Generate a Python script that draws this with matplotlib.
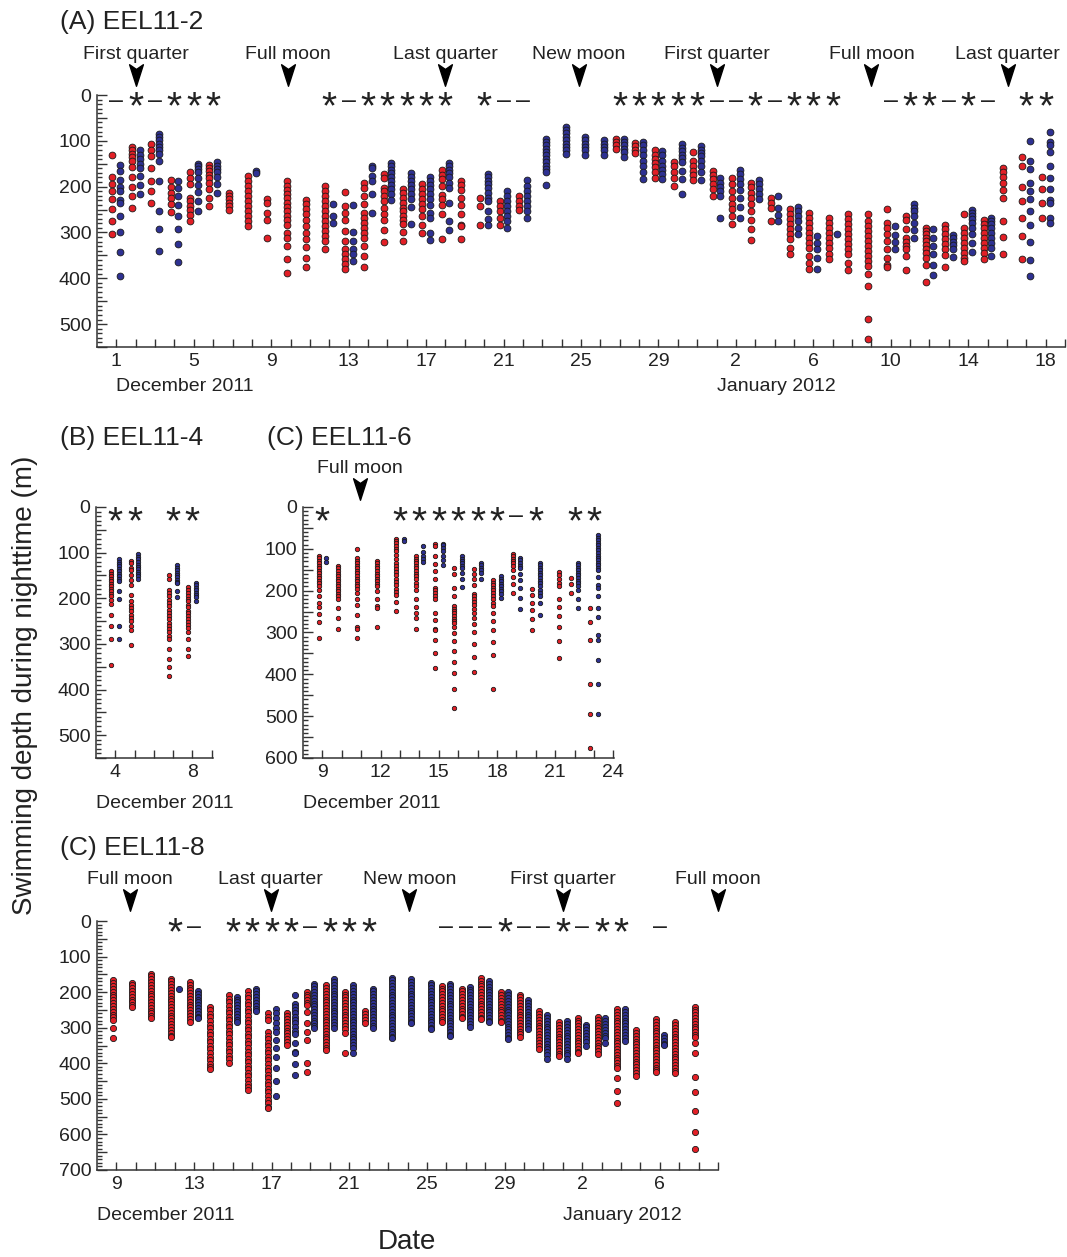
import matplotlib
matplotlib.use('Agg')
import matplotlib.pyplot as plt
import matplotlib.transforms as mtransforms
from matplotlib.path import Path
from matplotlib.ticker import FixedLocator, MultipleLocator, FuncFormatter

plt.rcParams['font.family'] = ['Liberation Sans', 'DejaVu Sans']

RED = '#e21f26'
BLUE = '#2e3192'
EDGE = '#1a1a1a'
AXC = '#333333'

# ---- data: day number (Dec 1 = 1, Jan 1 = 32) -> depths (m) ----
# (A) EEL11-2
a_red = {
    1: [132, 180, 194, 209, 227, 249, 275, 304],
    2: [114, 121, 128, 136, 143, 158, 180, 200, 220, 246],
    3: [106, 121, 134, 159, 187, 209, 235],
    4: [185, 200, 213, 224, 237, 255],
    5: [169, 181, 194, 224, 232, 242, 251, 262, 276],
    6: [152, 159, 166, 174, 181, 191, 205, 225, 242],
    7: [213, 220, 227, 235, 242, 251],
    8: [176, 187, 198, 209, 220, 231, 242, 253, 264, 275, 287],
    9: [227, 235, 257, 273, 312],
    10: [188, 198, 207, 216, 225, 235, 244, 253, 264, 273, 284, 301, 313, 330, 359, 389],
    11: [229, 238, 249, 260, 273, 287, 301, 315, 332, 356, 375],
    12: [198, 209, 220, 231, 242, 253, 264, 275, 286, 297, 308, 319, 337],
    13: [211, 242, 257, 273, 297, 319, 337, 348, 359, 369, 380],
    14: [192, 203, 220, 237, 257, 268, 279, 290, 301, 312, 330, 352, 376],
    15: [172, 181, 202, 210, 220, 231, 247, 260, 273, 295, 321],
    16: [205, 213, 224, 235, 246, 254, 264, 273, 282, 298, 319],
    17: [194, 205, 216, 227, 238, 249, 264, 284, 301],
    18: [163, 174, 183, 198, 218, 227, 240, 260, 315],
    19: [187, 196, 207, 224, 240, 260, 284, 286, 314],
    20: [224, 242, 284],
    21: [232, 242, 253, 268, 284],
    22: [220, 231, 242, 251],
    27: [97, 103, 110, 117],
    28: [105, 112, 119, 127],
    29: [121, 130, 139, 149, 158, 169, 181],
    30: [147, 156, 169, 181, 198],
    31: [125, 143, 154, 165, 174, 185],
    32: [165, 174, 183, 194, 205, 220],
    33: [181, 194, 209, 224, 237, 249, 264, 282],
    34: [191, 200, 213, 225, 238, 254, 273, 293, 317],
    35: [225, 235, 246, 275],
    36: [249, 260, 271, 282, 293, 304, 315, 334, 348],
    37: [257, 268, 279, 290, 301, 312, 323, 334, 352, 367, 379],
    38: [268, 279, 290, 301, 312, 323, 334, 347, 359],
    39: [260, 271, 282, 293, 304, 315, 326, 337, 348, 367, 381],
    40: [259, 275, 286, 297, 308, 319, 330, 341, 352, 363, 374, 391, 416, 488, 533],
    41: [249, 279, 290, 304, 319, 337, 356, 372, 376],
    42: [264, 273, 293, 312, 320, 330, 337, 352, 381],
    43: [290, 297, 304, 312, 319, 328, 337, 345, 356, 372, 409],
    44: [284, 293, 304, 315, 326, 337, 350, 376],
    45: [260, 290, 301, 312, 323, 334, 345, 356, 363],
    46: [273, 281, 290, 301, 312, 323, 334, 345, 357],
    47: [159, 169, 180, 191, 207, 225, 276, 309, 347],
    48: [136, 154, 200, 231, 268, 308, 359],
    49: [180, 205, 235, 268],
}
a_blue = {
    1: [152, 166, 185, 200, 209, 229, 235, 264, 298, 342, 396],
    2: [120, 130, 140, 150, 160, 176, 196, 216],
    3: [86, 92, 99, 106, 114, 121, 128, 144, 187, 253, 292, 341],
    4: [188, 203, 220, 240, 264, 292, 325, 365],
    5: [150, 154, 161, 169, 181, 196, 211, 231, 254],
    6: [147, 154, 161, 169, 180, 194, 213],
    8: [166, 171],
    12: [238, 264, 279],
    13: [240, 298, 319, 337, 348, 363],
    14: [154, 159, 176, 187, 216, 257],
    15: [149, 156, 163, 171, 180, 187, 196, 205, 215, 229],
    16: [171, 178, 187, 196, 205, 216, 227, 244, 281],
    17: [178, 187, 196, 205, 216, 227, 240, 257, 268, 301, 317],
    18: [149, 156, 163, 171, 180, 191, 203, 235, 275, 295],
    20: [172, 180, 187, 194, 202, 213, 224, 231, 253, 271, 284],
    21: [210, 220, 231, 242, 253, 264, 275, 290],
    22: [185, 198, 209, 220, 231, 242, 253, 268],
    23: [95, 103, 110, 117, 125, 132, 139, 147, 154, 161, 169, 196],
    24: [70, 77, 84, 92, 99, 106, 114, 121, 128],
    25: [92, 99, 106, 114, 121, 132],
    26: [99, 106, 114, 121, 132],
    27: [95, 103, 110, 117, 125, 136],
    28: [103, 110, 121, 132, 143, 154, 169, 183],
    29: [122, 132, 143, 154, 163, 172, 183],
    30: [108, 115, 122, 130, 137, 147, 166, 183, 216],
    31: [112, 119, 127, 134, 143, 154, 169, 185],
    32: [181, 191, 200, 210, 220, 269],
    33: [163, 172, 183, 194, 207, 224, 244, 268],
    34: [185, 194, 205, 216, 227],
    35: [221, 247, 262, 275],
    36: [244, 253, 264, 275, 290, 303],
    37: [308, 323, 337, 356, 379],
    38: [303],
    41: [287, 306, 320, 337],
    42: [237, 246, 254, 264, 279, 295, 312],
    43: [293, 312, 330, 348, 372, 392],
    44: [306, 313, 320, 328, 337, 353],
    45: [251, 257, 264, 271, 279, 290, 304, 324, 342],
    46: [268, 275, 282, 290, 301, 312, 323, 334, 352],
    48: [100, 143, 161, 191, 209, 228, 253, 284, 320, 361, 394],
    49: [81, 103, 110, 125, 156, 181, 205, 229, 235, 268, 279],
}
a_marks = {1: '-*-***', 12: '*-*****', 20: '*--', 27: '*****--*-***', 41: '-**-*-', 48: '**'}
a_moon_day = [2.0, 9.85, 18.0, 24.9, 32.0, 40.0, 47.05]
a_moon_name = ['First quarter', 'Full moon', 'Last quarter', 'New moon',
               'First quarter', 'Full moon', 'Last quarter']

# (B) EEL11-4
b_red = {
    4: [141, 146, 152, 158, 163, 168, 174, 180, 185, 190, 196, 203, 212, 237, 261, 290, 346],
    5: [118, 123, 134, 139, 149, 159, 170, 193, 207, 214, 221, 228, 236, 243, 250, 261, 270, 302],
    7: [149, 157, 181, 188, 196, 203, 210, 217, 225, 232, 239, 246, 254, 261, 268, 275, 282, 290,
        312, 332, 351, 370],
    8: [175, 181, 188, 194, 201, 207, 214, 220, 227, 233, 239, 246, 252, 259, 265, 275, 290, 312, 326],
}
b_blue = {
    4: [114, 120, 125, 130, 136, 141, 146, 152, 158, 163, 184, 201, 261, 290],
    5: [104, 110, 115, 120, 126, 131, 136, 142, 147, 152, 157],
    7: [128, 133, 138, 144, 149, 154, 159, 164, 167, 185, 198],
    8: [167, 172, 177, 182, 188, 193, 198, 205],
}
b_marks = {4: '**', 7: '**'}

# (C) EEL11-6
c_red = {
    9: [116, 122, 128, 134, 140, 146, 152, 158, 164, 170, 176, 182, 190, 198, 212, 230, 240, 256, 275, 312],
    10: [141, 147, 153, 159, 165, 171, 177, 183, 189, 195, 201, 207, 213, 221, 241, 265, 292],
    11: [101, 123, 129, 135, 141, 146, 153, 158, 165, 171, 177, 185, 190, 197, 206, 221, 235, 257,
         287, 291, 312],
    12: [129, 135, 141, 147, 153, 159, 165, 171, 177, 183, 190, 201, 219, 237, 241, 287],
    13: [76, 81, 87, 93, 100, 106, 114, 125, 133, 141, 149, 155, 163, 171, 179, 187, 195, 203, 211, 227, 249],
    14: [117, 124, 129, 135, 141, 147, 153, 159, 165, 173, 181, 190, 198, 221, 239, 253, 265, 291],
    15: [89, 93, 116, 137, 153, 173, 193, 198, 205, 213, 219, 253, 270, 291, 294, 319, 348, 386],
    16: [147, 159, 193, 213, 237, 243, 249, 254, 261, 267, 272, 278, 288, 302, 320, 344, 371, 398, 436, 481],
    17: [149, 159, 173, 187, 207, 213, 219, 227, 235, 245, 254, 265, 280, 300, 328, 358, 394],
    18: [175, 181, 187, 193, 198, 205, 213, 221, 229, 237, 253, 273, 294, 322, 353, 434],
    19: [112, 117, 124, 129, 135, 141, 151, 167, 185, 206],
    20: [197, 210, 230, 246, 267, 294],
    21.4: [155, 163, 171, 181, 190, 219, 238, 261, 287, 320, 360],
    22: [169, 185, 205],
    23: [241, 276, 318, 422, 494, 575],
}
c_blue = {
    9: [123, 131],
    13: [77, 81],
    14: [93, 108, 117, 124, 131],
    15: [88, 92, 97, 105, 116, 127, 139],
    16: [117, 124, 129, 135, 141, 147, 157, 173, 191],
    17: [133, 139, 145, 151, 157, 173],
    18: [165, 171, 177, 183, 189, 195, 201, 209, 218],
    19: [121, 127, 133, 141, 147, 159, 175, 194, 217, 245],
    20: [133, 139, 145, 151, 157, 163, 170, 176, 182, 190, 198, 205, 213, 230, 257],
    22: [135, 139, 145, 151, 157, 163, 170, 176, 182, 190, 198, 219, 241],
    23: [68, 73, 79, 85, 91, 97, 102, 109, 116, 121, 127, 133, 139, 145, 151, 167, 187, 193, 213,
         241, 262, 307, 318, 365, 423, 494],
}
c_marks = {9: '*', 13: '******-*', 22: '**'}
c_moon_day = [10.93]
c_moon_name = ['Full moon']

# (C) EEL11-8
d_red = {
    9: [167, 175, 183, 191, 199, 207, 215, 223, 231, 239, 247, 255, 263, 271, 279, 302, 328],
    10: [173, 181, 189, 197, 205, 213, 221, 229, 237, 241],
    11: [148, 156, 164, 172, 180, 188, 196, 204, 212, 220, 228, 236, 244, 252, 260, 268, 274],
    12: [162, 170, 178, 186, 194, 202, 210, 218, 226, 234, 242, 250, 258, 266, 274, 282, 290, 298,
         306, 314, 322, 326],
    13: [171, 179, 187, 195, 203, 211, 219, 227, 235, 243, 251, 259, 267, 275, 283],
    14: [241, 251, 261, 271, 281, 291, 301, 311, 321, 331, 341, 351, 361, 371, 381, 391, 401, 411, 415],
    15: [209, 219, 229, 239, 249, 259, 269, 279, 289, 299, 309, 319, 329, 339, 349, 359, 369, 379, 389, 399],
    16: [197, 207, 217, 227, 237, 247, 257, 267, 277, 287, 297, 307, 317, 327, 337, 347, 357, 367,
         377, 387, 397, 407, 417, 427, 437, 447, 457, 467, 475],
    17: [260, 270, 279, 312, 322, 332, 342, 352, 362, 372, 382, 392, 402, 412, 422, 432, 442, 452,
         462, 472, 482, 492, 502, 512, 522, 527],
    18: [260, 268, 276, 284, 292, 300, 308, 316, 324, 332, 340, 349],
    19: [199, 207, 215, 223, 231, 237, 255, 288, 312, 335, 398, 424],
    20: [181, 189, 197, 205, 213, 221, 229, 237, 245, 253, 261, 269, 277, 285, 293, 301, 309, 317,
         325, 333, 341, 349, 357, 363],
    21: [199, 207, 215, 223, 231, 239, 247, 255, 263, 271, 279, 287, 295, 303, 316, 371],
    22: [254, 262, 270, 278, 288],
    26: [182, 190, 198, 206, 214, 222, 230, 238, 246, 254, 262, 270, 278, 285],
    27: [190, 198, 206, 214, 222, 230, 238, 246, 254, 262, 270, 272],
    28: [160, 168, 176, 184, 192, 200, 208, 216, 224, 232, 240, 248, 256, 264, 272, 276],
    29: [201, 209, 217, 225, 233, 241, 249, 257, 265, 273, 281, 284],
    30: [207, 215, 223, 231, 239, 247, 255, 263, 271, 279, 287, 295, 303, 311, 319, 326],
    31: [254, 262, 270, 278, 286, 294, 302, 310, 318, 326, 334, 342, 350, 360],
    32: [285, 293, 301, 309, 317, 325, 333, 341, 349, 357, 365, 373, 379],
    33: [272, 280, 288, 296, 304, 312, 320, 328, 336, 344, 352, 360, 368, 372],
    34: [270, 278, 286, 294, 302, 310, 318, 326, 334, 342, 350, 358, 366, 375],
    35: [248, 256, 264, 272, 280, 288, 296, 304, 312, 320, 328, 336, 344, 352, 360, 368, 376, 384,
         392, 400, 408, 414, 440, 478, 513],
    36: [307, 315, 323, 331, 339, 347, 355, 363, 371, 379, 387, 395, 403, 411, 419, 427, 435],
    37: [276, 284, 292, 300, 308, 316, 324, 332, 340, 348, 356, 364, 372, 380, 388, 396, 404, 412, 420, 424],
    38: [285, 293, 301, 309, 317, 325, 333, 341, 349, 357, 365, 373, 381, 389, 397, 405, 413, 421, 426],
    39: [241, 249, 257, 265, 273, 281, 289, 297, 305, 313, 321, 326, 344, 370, 438, 482, 534, 594, 642],
}
d_blue = {
    12: [190],
    13: [197, 205, 213, 221, 229, 237, 245, 253, 261, 269, 274],
    15: [213, 221, 229, 237, 245, 253, 261, 269, 277, 284],
    16: [190, 198, 206, 214, 222, 230, 238, 246, 254],
    17: [248, 260, 274, 288, 300, 313, 335, 357, 382, 413, 449, 491],
    18: [209, 232, 241, 251, 260, 270, 279, 288, 298, 310, 319, 342, 368, 372, 403, 433],
    19: [176, 184, 192, 200, 208, 216, 224, 232, 240, 248, 256, 264, 272, 280, 288, 296, 302],
    20: [164, 172, 180, 188, 196, 204, 212, 220, 228, 236, 244, 252, 260, 268, 276, 284, 292, 300],
    21: [181, 189, 197, 205, 213, 221, 229, 237, 245, 253, 261, 269, 277, 285, 293, 301, 309, 317,
         325, 333, 341, 349, 357, 371],
    22: [190, 198, 206, 214, 222, 230, 238, 246, 254, 262, 270, 278, 286, 294, 300],
    23: [159, 167, 175, 183, 191, 199, 207, 215, 223, 231, 239, 247, 255, 263, 271, 279, 287, 295,
         303, 311, 319, 327, 330],
    24: [164, 172, 180, 188, 196, 204, 212, 220, 228, 236, 244, 252, 260, 268, 276, 284, 288],
    25: [173, 181, 189, 197, 205, 213, 221, 229, 237, 245, 253, 261, 269, 277, 285, 293, 301, 304],
    26: [176, 184, 192, 200, 208, 216, 224, 232, 240, 248, 256, 264, 272, 280, 288, 296, 304, 312, 320, 323],
    27: [185, 193, 201, 209, 217, 225, 233, 241, 249, 257, 265, 273, 281, 289, 297],
    28: [169, 177, 185, 193, 201, 209, 217, 225, 233, 241, 249, 257, 265, 273, 281, 285],
    29: [201, 209, 217, 225, 233, 241, 249, 257, 265, 273, 281, 289, 297, 305, 313, 321, 329, 332],
    30: [223, 231, 239, 247, 255, 263, 271, 279, 287, 295, 304],
    31: [265, 273, 281, 289, 297, 305, 313, 321, 329, 337, 345, 353, 361, 369, 377, 388],
    32: [282, 290, 298, 306, 314, 322, 330, 338, 346, 354, 362, 370, 378, 388],
    33: [291, 299, 307, 315, 323, 331, 339, 351],
    34: [274, 282, 290, 298, 306, 314, 322, 330, 342],
    35: [248, 256, 264, 272, 280, 288, 296, 304, 312, 320, 328, 338],
    37: [321, 329, 337, 345, 349],
}
d_marks = {12: '*-', 15: '****-***', 26: '---*--*-**', 37: '-'}
d_moon_day = [9.7, 16.95, 24.1, 32.0, 40.0]
d_moon_name = ['Full moon', 'Last quarter', 'New moon', 'First quarter', 'Full moon']

W, H = 1067, 1257
fig = plt.figure(figsize=(W / 100, H / 100), dpi=100)

ARROW = Path([(0, -0.5), (-0.32, 0.5), (0, 0.28), (0.32, 0.5), (0, -0.5)],
             [Path.MOVETO, Path.LINETO, Path.LINETO, Path.LINETO, Path.CLOSEPOLY])


def panel(box, xlim, ymax, labeled, minor_days, dsize):
    left, top, right, bottom = box
    ax = fig.add_axes([left / W, 1 - bottom / H, (right - left) / W, (bottom - top) / H])
    ax.set_xlim(*xlim)
    ax.set_ylim(ymax, 0)
    for s in ('top', 'right'):
        ax.spines[s].set_visible(False)
    for s in ('left', 'bottom'):
        ax.spines[s].set_color(AXC)
        ax.spines[s].set_linewidth(1.1)
    ax.xaxis.set_major_locator(FixedLocator(labeled))
    ax.xaxis.set_major_formatter(FuncFormatter(lambda v, p: '%d' % (v if v <= 31 else v - 31)))
    ax.xaxis.set_minor_locator(FixedLocator(minor_days))
    ax.yaxis.set_major_locator(MultipleLocator(50))
    ax.yaxis.set_minor_locator(MultipleLocator(10))
    ax.yaxis.set_major_formatter(FuncFormatter(lambda v, p: '%d' % v if v % 100 == 0 else ''))
    ax.tick_params(axis='both', which='both', direction='in', color=AXC, width=1.0,
                   labelsize=14, labelcolor='#222222')
    ax.tick_params(axis='x', which='both', length=6, pad=4)
    ax.tick_params(axis='y', which='major', length=7, pad=4)
    ax.tick_params(axis='y', which='minor', length=3.5)
    ax.dsize = dsize
    return ax


def draw(ax, red, blue):
    for night in sorted(set(red) | set(blue)):
        if night in red:
            ax.scatter([night - 0.2] * len(red[night]), red[night], s=ax.dsize, c=RED,
                       edgecolors=EDGE, linewidths=0.6, zorder=3, clip_on=False)
        if night in blue:
            ax.scatter([night + 0.2] * len(blue[night]), blue[night], s=ax.dsize, c=BLUE,
                       edgecolors=EDGE, linewidths=0.6, zorder=3, clip_on=False)


def marks(ax, m, below_px):
    tr = mtransforms.blended_transform_factory(ax.transData, ax.transAxes)
    h = ax.get_window_extent().height
    yfrac = 1 - below_px / h
    star_tr = mtransforms.offset_copy(tr, fig=fig, y=-18.5, units='dots')
    dash_tr = mtransforms.offset_copy(tr, fig=fig, y=-8, units='dots')
    for start, s in m.items():
        for i, ch in enumerate(s):
            if ch == '*':
                ax.text(start + i, yfrac, '*', transform=star_tr, ha='center', va='baseline',
                        fontsize=28, color='#222222')
            else:
                ax.text(start + i, yfrac, '\u2013', transform=dash_tr, ha='center', va='baseline',
                        fontsize=18, color='#222222')


def moons(ax, days, names, arrow_px, text_px):
    tr = mtransforms.blended_transform_factory(ax.transData, ax.transAxes)
    h = ax.get_window_extent().height
    for d, n in zip(days, names):
        ax.plot([d], [1 + arrow_px / h], marker=ARROW, markersize=15.5, color='black',
                transform=tr, clip_on=False)
        ax.text(d, 1 + text_px / h, n, transform=tr, ha='center', va='center',
                fontsize=14, color='#222222')


def month(ax, x, txt, y_px):
    tr = mtransforms.blended_transform_factory(ax.transData, ax.transAxes)
    h = ax.get_window_extent().height
    ax.text(x, -y_px / h, txt, transform=tr, ha='left', va='center', fontsize=14,
            color='#222222')


# (A)
axA = panel((97, 95, 1065, 347), (0, 50), 550, list(range(1, 50, 4)), list(range(1, 51)), 24)
draw(axA, a_red, a_blue)
marks(axA, a_marks, 5)
moons(axA, a_moon_day, a_moon_name, 20, 41)
month(axA, 1, 'December 2011', 39)
month(axA, 32, 'January 2012', 39)

# (B)
axB = panel((96, 507, 212.5, 758), (3, 9.05), 550, [4, 8], list(range(4, 10)), 10)
draw(axB, b_red, b_blue)
marks(axB, b_marks, 8)
month(axB, 3, 'December 2011', 45)

# (C) EEL11-6
axC = panel((303, 507, 614, 758), (8, 24.03), 600, [9, 12, 15, 18, 21, 24], list(range(9, 25)), 10)
draw(axC, c_red, c_blue)
marks(axC, c_marks, 8)
moons(axC, c_moon_day, c_moon_name, 18, 38)
month(axC, 8, 'December 2011', 45)

# (C) EEL11-8
axD = panel((97, 921, 718, 1170), (8, 40), 700, list(range(9, 40, 4)), list(range(9, 41)), 20)
draw(axD, d_red, d_blue)
marks(axD, d_marks, 5)
moons(axD, d_moon_day, d_moon_name, 21, 41)
month(axD, 8, 'December 2011', 45)
month(axD, 32, 'January 2012', 45)

fig.text(60 / W, 1 - 22 / H, '(A) EEL11-2', fontsize=19, ha='left', va='center', color='#222222')
fig.text(60 / W, 1 - 438 / H, '(B) EEL11-4', fontsize=19, ha='left', va='center', color='#222222')
fig.text(267 / W, 1 - 438 / H, '(C) EEL11-6', fontsize=19, ha='left', va='center', color='#222222')
fig.text(60 / W, 1 - 848 / H, '(C) EEL11-8', fontsize=19, ha='left', va='center', color='#222222')
fig.text(25 / W, 1 - 685 / H, 'Swimming depth during nighttime (m)', fontsize=20, rotation=90,
         ha='center', va='center', color='#222222')
fig.text(407 / W, 1 - 1242 / H, 'Date', fontsize=20, ha='center', va='center', color='#222222')

fig.savefig('out.png', dpi=100)
